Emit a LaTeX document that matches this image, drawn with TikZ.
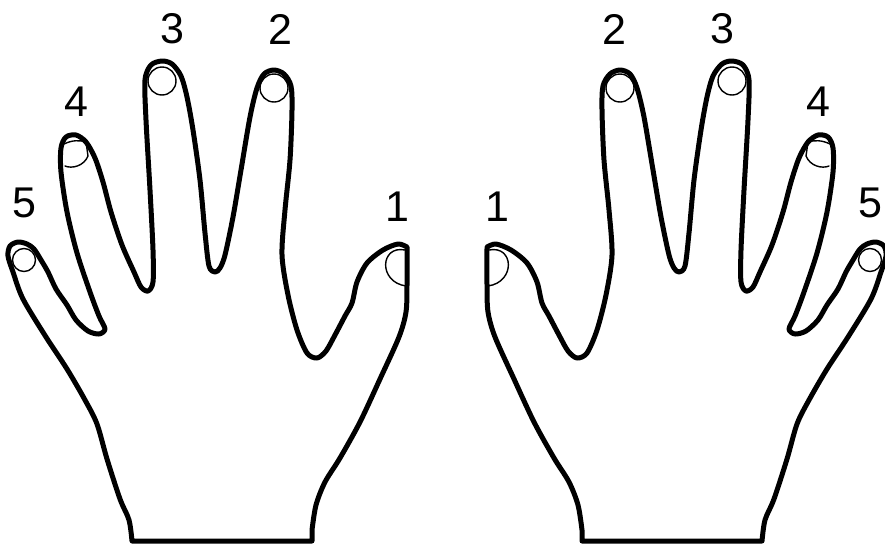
\documentclass[tikz,border=0pt]{standalone}
\usepackage{fontspec}
\setmainfont{Liberation Sans}
\begin{document}
\begin{tikzpicture}[x=1pt,y=-1pt,line join=round,line cap=round,
                hand/.style={line width=5pt},
                nail/.style={line width=1.4pt},
                finger/.style={font=\fontsize{43}{43}\selectfont,inner sep=0pt}]
  \useasboundingbox (0,0) rectangle (885,544);

  % left hand, then its mirror image
  \foreach \h/\s/\o in {L/1/0,R/-1/894}{
  \begin{scope}[xshift=\o pt,xscale=\s]
    \node[finger] (\h5) at (24,203) {5};
    \node[finger] (\h4) at (76,102) {4};
    \node[finger] (\h3) at (172,29) {3};
    \node[finger] (\h2) at (280,29) {2};
    \node[finger] (\h1) at (397,207) {1};

    \draw[nail] (24,260) circle (11.5pt);
    \draw[nail] (64,144) .. controls (72,140) and (80,140) .. (86,142)
      -- (88,156) .. controls (84,166) and (72,169) .. (65,166);
    \draw[nail] (162,81) circle (14pt);
    \draw[nail] (274,88) circle (14pt);
    \draw[nail] (405,250) .. controls (380,245) and (378,282) .. (406,286);

    \draw[hand] (312,541)
      -- plot[smooth,tension=0.5] coordinates {(312,530) (316,505) (325,482)
         (340,458) (360,422) (380,379) (399,337) (406,312) (407,285) (407,247)}
      -- plot[smooth,tension=0.5] coordinates {(407,247) (398,244) (383,250)
         (367,263) (357,282) (352,303) (345,316) (335,335) (326,351) (317,358)
         (307,353) (297,330) (288,295) (282,255) (285,210) (290,160) (292,110)
         (291,86) (284,74) (274,70) (264,74) (257,88) (250,117) (241,170)
         (233,217) (225,255) (220,268) (215,272) (209,266) (205,233) (200,180)
         (193,130) (187,97) (181,76) (172,64) (162,61) (151,65) (145,80)
         (146,120) (150,190) (153,250) (153,282) (148,291) (141,287) (134,272)
         (122,245) (111,212) (103,182) (95,158) (86,142) (76,135) (66,137)
         (61,148) (61,172) (67,212) (77,253) (90,292) (99,316) (105,329)
         (99,334) (88,331) (76,320) (67,305) (56,289) (48,272) (41,260)
         (34,249) (27,244) (18,242) (10,246) (8,256) (13,272) (23,299)
         (46,337) (67,369) (85,400) (97,424) (107,459) (120,499) (129,520)
         (132,541)}
      -- cycle;
  \end{scope}}
\end{tikzpicture}
\end{document}
